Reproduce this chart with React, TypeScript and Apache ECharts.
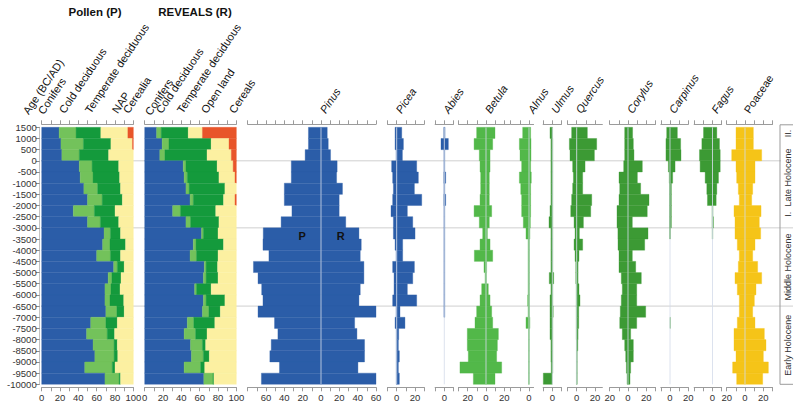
import { useEffect, useRef } from 'react';
import * as echarts from 'echarts';

const FONT = '"Liberation Sans", Arial, Helvetica, sans-serif';

// ---------- Age bins (BC/AD) ----------
const binTops = [1500, 1000, 500, 0, -500, -1000, -1500, -2000, -2500, -3000, -3500, -4000, -4500, -5000, -5500, -6000, -6500, -7000, -7500, -8000, -8500, -9000, -9500];
const binBottoms = [1000, 500, 0, -500, -1000, -1500, -2000, -2500, -3000, -3500, -4000, -4500, -5000, -5500, -6000, -6500, -7000, -7500, -8000, -8500, -9000, -9500, -10000];

// ---------- Pollen (P) groups, % ----------
const pConifers = [19, 21, 22, 41, 42, 46, 50, 34.5, 50, 68, 66.5, 60, 78.5, 72.5, 69, 69, 70, 53.5, 49, 56, 58, 47, 69];
const pCold = [18.5, 24.5, 19, 14, 14, 15, 16, 23, 14, 7, 8, 15, 4, 4, 6.5, 5.5, 12, 16.5, 22.5, 23, 21, 30, 15.5];
const pTemperate = [27, 30, 32, 29, 29, 25, 22, 22.5, 20, 11, 17, 11, 7.5, 10, 10, 15, 8, 12.5, 8, 3.5, 4, 3, 1.5];
const pNAP = [29.5, 23.5, 27, 16, 15, 14, 12, 20, 16, 14, 8.5, 14, 10, 13.5, 14.5, 10.5, 10, 17.5, 20.5, 17.5, 17, 20, 14];
const pCerealia = [6, 1, 0, 0, 0, 0, 0, 0, 0, 0, 0, 0, 0, 0, 0, 0, 0, 0, 0, 0, 0, 0, 0];

// ---------- REVEALS (R) groups, % ----------
const rConifers = [13, 19, 16.5, 42, 43, 45, 49.5, 30.5, 45, 62, 53, 49.5, 65, 64, 54.5, 64, 63, 46.5, 43, 50, 51, 43, 64.5];
const rCold = [5, 7.5, 5.5, 3, 3.5, 3.5, 3.5, 8.5, 5, 2, 3, 7, 2, 3, 2, 3, 7, 7, 12.5, 13, 13, 18, 10];
const rTemperate = [29.5, 46, 46, 34, 34.5, 39, 33, 38.5, 31, 16, 30, 23.5, 12.5, 13, 16, 20.5, 12.5, 23, 12.5, 3.5, 6.5, 4.5, 1];
const rOpen = [15.5, 19.5, 26.5, 17.5, 17.5, 12.5, 12.5, 22.5, 19, 20, 14, 20, 20.5, 20, 27.5, 12.5, 17.5, 23.5, 32, 33.5, 29.5, 34.5, 24.5];
const rCereals = [37, 8, 5.5, 3.5, 1.5, 0, 1.5, 0, 0, 0, 0, 0, 0, 0, 0, 0, 0, 0, 0, 0, 0, 0, 0];

// ---------- Taxa: P (left) and R (right), % ----------
const pinusP = [13.7, 13.7, 17.3, 32.4, 32.4, 40, 40, 31.7, 43.5, 63, 63.3, 56.8, 73.7, 68.7, 64.7, 63.3, 68.7, 50.7, 47, 54.3, 55.8, 45.3, 65];
const pinusR = [6.8, 7.9, 10.4, 17.6, 17, 23.4, 19.8, 19.8, 27, 41.4, 43.9, 42.8, 46.8, 46.8, 42.8, 41.4, 60, 36.7, 39.2, 47.5, 47.5, 40.3, 60];
const piceaP = [1.8, 1.8, 0.7, 5.5, 4.4, 3.6, 4.4, 6.2, 3.6, 3.6, 1.8, 0.7, 4.4, 2.9, 2.9, 4.4, 0.7, 1.8, 0.5, 0.5, 0.5, 0.5, 0.5];
const piceaR = [5.5, 7.3, 6.2, 21.8, 23.6, 19.3, 27.3, 11.6, 17.5, 20, 6.5, 6.5, 19.3, 17.5, 11.6, 21.8, 3.6, 9, 2.2, 1.8, 2.9, 1.8, 2.9];
const abiesP = [0.5, 3.6, 0.3, 0.3, 0.5, 0.3, 0.5, 0.3, 0.3, 0.3, 0.3, 0.3, 0.3, 0.3, 0.3, 0.3, 0.3, 0, 0, 0, 0, 0, 0];
const abiesR = [0.8, 4.4, 0.5, 0.5, 1.5, 0.5, 1.5, 0.5, 0.5, 0.5, 0.5, 0.5, 0.5, 0.5, 0.5, 0.5, 0.5, 0, 0, 0, 0, 0, 0];
const betulaP = [10.2, 13, 7.3, 6.5, 5.8, 5.8, 6.5, 13, 7.3, 3.6, 6.5, 12.7, 2.2, 1, 4.7, 6.5, 10.2, 12, 20.4, 20.4, 19.3, 28.4, 13.8];
const betulaR = [9.8, 7.3, 4.4, 4.4, 3.6, 3.6, 3.6, 6.2, 3.6, 1.5, 4.4, 7.3, 0.7, 0.5, 2.5, 4.4, 6.2, 7.3, 13.5, 12.4, 11.6, 17.1, 9.8];
const alnusP = [6.9, 10.5, 9.8, 8, 10.5, 9, 8, 8, 6.2, 3.3, 1, 1, 1, 1, 1, 1.5, 1, 3.3, 0.5, 0.5, 0.5, 0.5, 0.5];
const alnusR = [1.8, 2.2, 2.2, 1.8, 2.5, 1.8, 1.8, 1.8, 1.5, 1, 0.5, 0.5, 0.5, 0.5, 0.5, 0.5, 0.5, 1, 0.3, 0.3, 0.3, 0.3, 0.3];
const ulmusP = [2.5, 1.5, 1.5, 1.5, 1.5, 1.5, 1.5, 2.5, 3.6, 1.5, 1.5, 1.5, 1.5, 3.3, 1.5, 2.5, 2.5, 2.5, 2.5, 1.5, 1.5, 1.2, 9.8];
const ulmusR = [0.3, 0.5, 0.5, 0.5, 0.5, 0.5, 0.5, 0.5, 0.5, 0.5, 0.5, 0.5, 0.5, 1.5, 0.5, 0.5, 1, 0.5, 0.5, 0.5, 0.5, 0.5, 0];
const quercusP = [5.5, 8, 7.3, 4.4, 3.6, 4.4, 5.5, 6.5, 2.9, 1.8, 2.9, 1.8, 1, 1, 0.5, 0.5, 0.5, 0.5, 0.5, 0.3, 0.3, 0.3, 0.3];
const quercusR = [11.6, 21.8, 19.3, 9.1, 6.5, 6.5, 16.4, 15.3, 7.3, 2.9, 6.5, 2.5, 1.5, 1.5, 2.5, 3.6, 2.2, 2.2, 1.5, 1.2, 0.5, 0.5, 0.5];
const corylusP = [3.6, 3.6, 3.6, 4.7, 9.8, 9, 9.8, 12, 12, 11, 10.9, 9.8, 9.8, 7.3, 6.2, 7.3, 8.4, 9, 6.2, 3.6, 2.5, 1.8, 1];
const corylusR = [5, 5.8, 6.5, 15.6, 10.2, 13.8, 22.9, 21, 4.7, 21.8, 18.2, 4.7, 8.4, 14.5, 9.5, 9.5, 19.3, 9.5, 2.9, 5.8, 5.8, 2.9, 2.2];
const carpinusP = [3.6, 4.4, 4.4, 1.8, 0.8, 0.5, 0.5, 0.5, 0.5, 0.3, 0, 0, 0, 0, 0, 0, 0, 0, 0, 0, 0, 0, 0];
const carpinusR = [8, 11.6, 12, 5.5, 2.9, 1.5, 1.5, 1.5, 1.5, 0.3, 0, 0, 0, 0, 0, 0, 0, 0.3, 0, 0, 0, 0, 0];
const fagusP = [9.8, 11.6, 14.2, 13.5, 8, 6.2, 5.5, 0.5, 0.5, 0.3, 0, 0, 0, 0, 0, 0, 0, 0, 0, 0, 0, 0, 0];
const fagusR = [4.7, 7.6, 8.4, 8.4, 6.5, 4.7, 4, 0.5, 1, 0.3, 0, 0, 0, 0, 0, 0, 0, 0, 0, 0, 0, 0, 0];
const poaceaeP = [9.8, 9.8, 14.5, 9.8, 9.1, 7.3, 6.2, 12, 10.9, 10.9, 8.4, 6.2, 7.3, 10.9, 8.4, 6.2, 6.2, 8.4, 12, 12, 9.8, 13.5, 9.1];
const poaceaeR = [9.1, 9.1, 18.2, 10.9, 10.9, 8.4, 7.3, 17.5, 15.6, 17.1, 10.9, 8.4, 13.8, 18.2, 12, 10.2, 8.4, 10.9, 21.1, 22.9, 20, 25.5, 19.3];

// ---------- Zones ----------
const zoneNames = ['Late Holocene', 'Middle Holocene', 'Early Holocene'];
const zoneTops = [1500, -3000, -6500];
const zoneBottoms = [-3000, -6500, -10000];
const subzoneNames = ['II.', 'I.'];
const subzoneAges = [1500, -3000];
const boundaryAges = [0, -3000, -6500];

// ---------- Styling / layout ----------
const BLUE = '#2b5da8';
const LGREEN = '#73c25b';
const DGREEN = '#149a3c';
const YELLOW = '#fcf0a1';
const ORANGE = '#e8552a';
const BETULA = '#52b849';
const DECID = '#3c9a34';
const POACEAE = '#f5c418';

const K = 0.9166; // px per % unit
const GRID_TOP = 127.3;
const GRID_H = 257;
const Y_MIN = -10000;
const Y_MAX = 1500;

type Panel = {
  kind: 'stack' | 'mirror';
  left: number;
  min: number;
  max: number;
  labels: number[];
  parts?: number[][];
  colors?: string[];
  P?: number[];
  R?: number[];
  color?: string;
  name?: string;
  italic?: boolean;
  zero?: number;
};

const stackPanels: Panel[] = [
  { kind: 'stack', left: 41.7, min: 0, max: 100, labels: [0, 20, 40, 60, 80, 100], parts: [pConifers, pCold, pTemperate, pNAP, pCerealia], colors: [BLUE, LGREEN, DGREEN, YELLOW, ORANGE] },
  { kind: 'stack', left: 144.7, min: 0, max: 100, labels: [0, 20, 40, 60, 80, 100], parts: [rConifers, rCold, rTemperate, rOpen, rCereals], colors: [BLUE, LGREEN, DGREEN, YELLOW, ORANGE] },
];

const mirrorDefs = [
  { name: 'Pinus', zero: 321, min: -80, max: 60, P: pinusP, R: pinusR, color: BLUE, labels: [-60, -40, -20, 0, 20, 40, 60], italic: true },
  { name: 'Picea', zero: 396.7, min: -10, max: 30, P: piceaP, R: piceaR, color: BLUE, labels: [0, 20], italic: true },
  { name: 'Abies', zero: 444.3, min: -10, max: 10, P: abiesP, R: abiesR, color: BLUE, labels: [0], italic: true },
  { name: 'Betula', zero: 486, min: -30, max: 26, P: betulaP, R: betulaR, color: BETULA, labels: [-20, 0, 20], italic: true },
  { name: 'Alnus', zero: 529, min: -20, max: 5, P: alnusP, R: alnusR, color: BETULA, labels: [0], italic: true },
  { name: 'Ulmus', zero: 552.3, min: -10, max: 10, P: ulmusP, R: ulmusR, color: DECID, labels: [0], italic: true },
  { name: 'Quercus', zero: 576.7, min: -10, max: 28, P: quercusP, R: quercusR, color: DECID, labels: [0, 20], italic: true },
  { name: 'Corylus', zero: 628, min: -20, max: 30, P: corylusP, R: corylusR, color: DECID, labels: [-20, 0, 20], italic: true },
  { name: 'Carpinus', zero: 670, min: -10, max: 20, P: carpinusP, R: carpinusR, color: DECID, labels: [0, 20], italic: true },
  { name: 'Fagus', zero: 712.5, min: -20, max: 10, P: fagusP, R: fagusR, color: DECID, labels: [0], italic: true },
  { name: 'Poaceae', zero: 745, min: -20, max: 30, P: poaceaeP, R: poaceaeR, color: POACEAE, labels: [-20, 0, 20], italic: false },
];

const mirrorPanels: Panel[] = mirrorDefs.map((d) => ({ ...d, kind: 'mirror', left: d.zero + d.min * K }));

const headerLabels = [
  { text: 'Age (BC/AD)', x: 30, y: 116 },
  { text: 'Conifers', x: 45, y: 116 },
  { text: 'Cold deciduous', x: 66, y: 115 },
  { text: 'Temperate deciduous', x: 92, y: 115 },
  { text: 'NAP', x: 119, y: 115 },
  { text: 'Cerealia', x: 130, y: 115 },
  { text: 'Conifers', x: 152, y: 117 },
  { text: 'Cold deciduous', x: 163, y: 115 },
  { text: 'Temperate deciduous', x: 184, y: 115 },
  { text: 'Open land', x: 208, y: 115 },
  { text: 'Cereals', x: 236, y: 115 },
];

function tickValues(min: number, max: number) {
  const out: number[] = [];
  for (let v = Math.ceil(min / 10) * 10; v <= max + 1e-9; v += 10) out.push(v);
  return out;
}

function rectRender(colors: string[]) {
  return (params: any, api: any) => {
    const a = api.coord([api.value(2), api.value(0)]);
    const b = api.coord([api.value(3), api.value(1)]);
    const col = colors[api.value(4)];
    return {
      type: 'rect',
      shape: { x: Math.min(a[0], b[0]), y: a[1], width: Math.abs(b[0] - a[0]), height: b[1] - a[1] },
      style: { fill: col, stroke: col, lineWidth: 0.35 },
    };
  };
}

function txt(text: string, font: string, align: string, vAlign: string) {
  return { text, fill: '#111', font, align, verticalAlign: vAlign, textAlign: align, textVerticalAlign: vAlign };
}

function buildOption() {
  const panels = [...stackPanels, ...mirrorPanels];
  const grid: any[] = [];
  const xAxis: any[] = [];
  const yAxis: any[] = [];
  const series: any[] = [];

  panels.forEach((pn, i) => {
    grid.push({ left: pn.left, top: GRID_TOP, width: (pn.max - pn.min) * K, height: GRID_H, containLabel: false, outerBoundsMode: 'none' });
    const ticks = tickValues(pn.min, pn.max);
    const lineStyle = { color: '#9b9b9b', width: 1 };
    xAxis.push({
      gridIndex: i, type: 'value', min: pn.min, max: pn.max, position: 'bottom', offset: 3,
      axisLine: { show: true, onZero: false, lineStyle },
      axisTick: { show: true, length: 4, lineStyle, customValues: ticks },
      axisLabel: { show: true, customValues: pn.labels, formatter: (v: number) => String(Math.abs(v)), fontSize: 9.5, color: '#333', margin: 5, fontFamily: FONT },
      splitLine: { show: false },
    });
    xAxis.push({
      gridIndex: i, type: 'value', min: pn.min, max: pn.max, position: 'top', offset: 3,
      axisLine: { show: true, onZero: false, lineStyle },
      axisTick: { show: true, length: 4, lineStyle, customValues: ticks },
      axisLabel: { show: false },
      splitLine: { show: false },
    });
    yAxis.push({
      gridIndex: i, type: 'value', min: Y_MIN, max: Y_MAX, interval: 500, show: i === 0,
      position: 'left', offset: 2,
      axisLine: { show: true, onZero: false, lineStyle: { color: '#c4c4c4' } },
      axisTick: { show: true, length: 4, lineStyle: { color: '#8a8a8a' } },
      axisLabel: { show: true, fontSize: 9.5, color: '#333', margin: 3, fontFamily: FONT, formatter: (v: number) => String(v) },
      splitLine: { show: false },
    });

    const items: number[][] = [];
    if (pn.kind === 'stack') {
      binTops.forEach((top, b) => {
        let cum = 0;
        pn.parts!.forEach((arr, j) => {
          const v = arr[b];
          if (v > 0) items.push([top, binBottoms[b], cum, cum + v, j]);
          cum += v;
        });
      });
      series.push({
        type: 'custom', xAxisIndex: i * 2, yAxisIndex: i, z: 2, silent: true,
        encode: { x: [2, 3], y: [0, 1] }, data: items, renderItem: rectRender(pn.colors!),
      });
    } else {
      binTops.forEach((top, b) => {
        if (pn.P![b] > 0) items.push([top, binBottoms[b], -pn.P![b], 0, 0]);
        if (pn.R![b] > 0) items.push([top, binBottoms[b], 0, pn.R![b], 0]);
      });
      series.push({
        type: 'custom', xAxisIndex: i * 2, yAxisIndex: i, z: 2, silent: true,
        encode: { x: [2, 3], y: [0, 1] }, data: items, renderItem: rectRender([pn.color!]),
      });
      series.push({
        type: 'custom', xAxisIndex: i * 2, yAxisIndex: i, z: 3, silent: true,
        data: [[0, Y_MAX, Y_MIN]],
        renderItem: (params: any, api: any) => {
          const a = api.coord([api.value(0), api.value(1)]);
          const b = api.coord([api.value(0), api.value(2)]);
          return { type: 'line', shape: { x1: a[0], y1: a[1], x2: b[0], y2: b[1] }, style: { stroke: 'rgba(212,220,234,0.82)', lineWidth: 1 } };
        },
      });
    }
  });

  // P / R markers inside the Pinus panel
  const pinusIdx = stackPanels.length;
  series.push({
    type: 'custom', xAxisIndex: pinusIdx * 2, yAxisIndex: pinusIdx, z: 4, silent: true,
    data: [[-20.5, -3380, 0], [21.5, -3380, 1]],
    renderItem: (params: any, api: any) => {
      const p = api.coord([api.value(0), api.value(1)]);
      return { type: 'text', x: p[0], y: p[1], style: txt(['P', 'R'][api.value(2)], `bold 11px ${FONT}`, 'center', 'middle') };
    },
  });

  // horizontal zone boundary lines (under the bars)
  series.push({
    type: 'custom', xAxisIndex: 0, yAxisIndex: 0, z: 1, silent: true,
    data: boundaryAges.map((a, k) => [a, k]),
    renderItem: (params: any, api: any) => {
      const y = api.coord([0, api.value(0)])[1];
      const xEnd = api.value(1) === 0 ? 781 : 793;
      return { type: 'line', shape: { x1: 41, y1: y, x2: xEnd, y2: y }, style: { stroke: '#cfcfcf', lineWidth: 1 } };
    },
  });

  // right-hand zone column: frame + labels
  series.push({
    type: 'custom', xAxisIndex: 0, yAxisIndex: 0, z: 4, silent: true,
    data: [[Y_MAX, Y_MIN]],
    renderItem: (params: any, api: any) => {
      const yt = api.coord([0, api.value(0)])[1] - 2.5;
      const yb = api.coord([0, api.value(1)])[1];
      const st = { stroke: '#9b9b9b', lineWidth: 1 };
      return {
        type: 'group',
        children: [
          { type: 'line', shape: { x1: 780, y1: yt, x2: 780, y2: yb }, style: st },
          { type: 'line', shape: { x1: 780, y1: yt, x2: 793, y2: yt }, style: st },
          { type: 'line', shape: { x1: 780, y1: yb, x2: 793, y2: yb }, style: st },
        ],
      };
    },
  });
  series.push({
    type: 'custom', xAxisIndex: 0, yAxisIndex: 0, z: 4, silent: true,
    data: zoneNames.map((n, k) => [zoneTops[k], zoneBottoms[k], k]),
    renderItem: (params: any, api: any) => {
      const yt = api.coord([0, api.value(0)])[1];
      const yb = api.coord([0, api.value(1)])[1];
      return { type: 'text', x: 787.5, y: (yt + yb) / 2, rotation: Math.PI / 2, style: { ...txt(zoneNames[api.value(2)], `9px ${FONT}`, 'center', 'middle'), fill: '#333' } };
    },
  });
  series.push({
    type: 'custom', xAxisIndex: 0, yAxisIndex: 0, z: 4, silent: true,
    data: subzoneNames.map((n, k) => [subzoneAges[k], k]),
    renderItem: (params: any, api: any) => {
      const k = api.value(1);
      const y = api.coord([0, api.value(0)])[1];
      return {
        type: 'text', x: 787.5, y: k === 0 ? y + 2.5 : y - 11, rotation: Math.PI / 2,
        style: { ...txt(subzoneNames[k], `9px ${FONT}`, k === 0 ? 'right' : 'left', 'middle'), fill: '#333' },
      };
    },
  });

  const ROT = (56 * Math.PI) / 180;
  const graphic: any[] = [
    { type: 'text', x: 95, y: 12, style: txt('Pollen (P)', `bold 11.5px ${FONT}`, 'center', 'middle') },
    { type: 'text', x: 195, y: 12, style: txt('REVEALS (R)', `bold 11.5px ${FONT}`, 'center', 'middle') },
    ...headerLabels.map((h) => ({ type: 'text', x: h.x, y: h.y, rotation: ROT, style: txt(h.text, `11px ${FONT}`, 'left', 'bottom') })),
    ...mirrorDefs.map((d) => ({
      type: 'text', x: d.zero + 6, y: 115, rotation: ROT,
      style: txt(d.name, `${d.italic ? 'italic ' : ''}11px ${FONT}`, 'left', 'bottom'),
    })),
  ];

  return { animation: false, backgroundColor: '#fff', grid, xAxis, yAxis, series, graphic };
}

export default function App() {
  const ref = useRef<HTMLDivElement>(null);
  useEffect(() => {
    const chart = echarts.init(ref.current!, null, { renderer: 'svg' });
    chart.setOption(buildOption() as any);
    return () => chart.dispose();
  }, []);
  return <div ref={ref} style={{ position: 'fixed', left: 0, top: 0, width: 800, height: 409, background: '#fff' }} />;
}
